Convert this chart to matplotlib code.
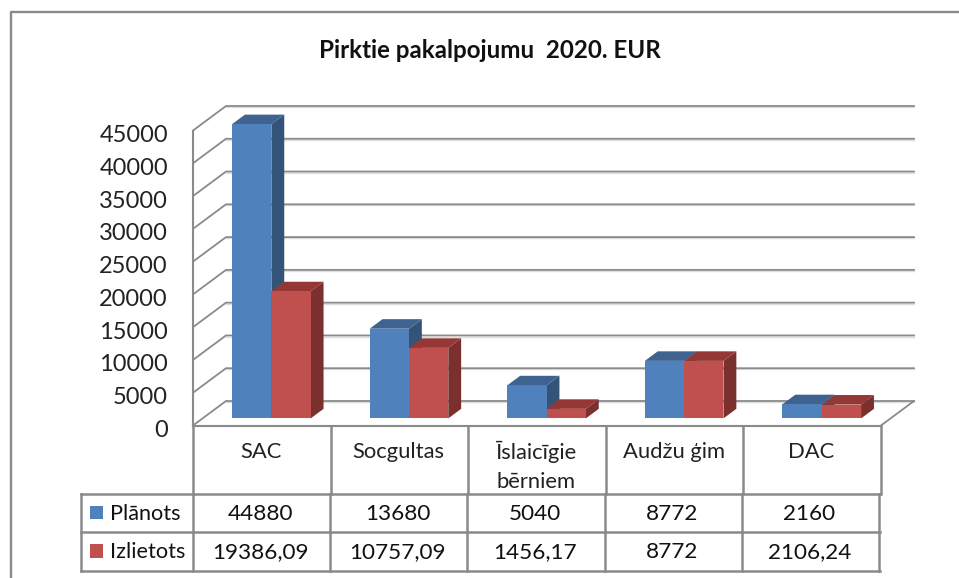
import matplotlib
matplotlib.use("Agg")
import matplotlib.pyplot as plt
from matplotlib.transforms import ScaledTranslation

categories = ["SAC", "Socgultas", "Īslaicīgie\nbērniem", "Audžu ģim", "DAC"]
planots = [44880, 13680, 5040, 8772, 2160]
izlietots = [19386.09, 10757.09, 1456.17, 8772, 2106.24]
y_ticks = [0, 5000, 10000, 15000, 20000, 25000, 30000, 35000, 40000, 45000]
title = "Pirktie pakalpojumu  2020. EUR"

W, H = 959, 578
plt.rcParams["font.family"] = ["Lato", "DejaVu Sans"]

GRID = "#8a8a8a"
BLUE = ("#4f81bd", "#3e6390", "#335379")
RED = ("#c0504d", "#953735", "#7b302e")

# depth of the fake 3d box, in data units of the axes below
DX = 33 / 137.6
DY = 24.5 / 295 * 45000
BAR_W = 0.2857
D0, D1 = 0.29, 0.68


def project(x, v, d):
    return x + d * DX, v + d * DY


def draw_bar(ax, x0, x1, v, colors, z):
    front, top, side = colors
    pts = [(x0, 0, D0), (x1, 0, D0), (x1, v, D0), (x0, v, D0)]
    xs, ys = zip(*[project(*p) for p in pts])
    ax.fill(xs, ys, color=front, lw=0, zorder=z + 0.2, clip_on=False)
    pts = [(x0, v, D0), (x1, v, D0), (x1, v, D1), (x0, v, D1)]
    xs, ys = zip(*[project(*p) for p in pts])
    ax.fill(xs, ys, color=top, lw=0, zorder=z + 0.1, clip_on=False)
    pts = [(x1, 0, D0), (x1, 0, D1), (x1, v, D1), (x1, v, D0)]
    xs, ys = zip(*[project(*p) for p in pts])
    ax.fill(xs, ys, color=side, lw=0, zorder=z, clip_on=False)


def fmt(v):
    if float(v).is_integer():
        return str(int(v))
    return f"{v:.2f}".replace(".", ",")


fig = plt.figure(figsize=(W / 100, H / 100), dpi=100, facecolor="white")

# overlay in pixels for the frame and the data table
tab = fig.add_axes([0, 0, 1, 1], zorder=1)
tab.set_xlim(0, W)
tab.set_ylim(H, 0)
tab.axis("off")


def pline(xs, ys, lw=1.8):
    tab.plot(xs, ys, color=GRID, lw=lw, solid_capstyle="projecting")


pline([11, 11, W], [H, 12, 12], lw=1.7)
tab.text(490, 51, title, ha="center", va="center", fontsize=17.4,
         fontweight="bold", color="#111111")

# plot area, front plane of the box
ax = fig.add_axes([193 / W, (H - 425.5) / H, 688 / W, 295 / H], zorder=2)
ax.set_xlim(0, 5)
ax.set_ylim(0, 45000)
ax.patch.set_alpha(0)
for s in ax.spines.values():
    s.set_visible(False)
ax.set_xticks([])
ax.set_yticks(y_ticks)
ax.tick_params(axis="y", length=0, pad=18, labelsize=17, labelcolor="#222222")
shift = ScaledTranslation(0, -3 / 100, fig.dpi_scale_trans)
for lab in ax.get_yticklabels():
    lab.set_transform(lab.get_transform() + shift)

for t in y_ticks:
    xs, ys = zip(project(0, t, 0), project(0, t, 1), project(5, t, 1))
    ax.plot(xs, ys, color=GRID, lw=1.3, zorder=1, clip_on=False)
    # soft shadow under the gridline
    xs, ys = zip(project(0, t - 170, 1), project(5, t - 170, 1))
    ax.plot(xs, ys, color="#dedede", lw=1.0, zorder=0.9, clip_on=False)

ax.plot([0, 0], [0, 45000], color=GRID, lw=1.5, zorder=1, clip_on=False)
xs, ys = zip(project(5, 0, 0), project(5, 0, 1))
ax.plot(xs, ys, color=GRID, lw=1.3, zorder=1, clip_on=False)

for i in range(len(categories)):
    c = i + 0.5
    draw_bar(ax, c - BAR_W, c, planots[i], BLUE, 2 + i)
    draw_bar(ax, c, c + BAR_W, izlietots[i], RED, 2.5 + i)

# data table
row_y = [426, 493.5, 532, 570.5]
cols_top = [193 + 137.6 * i for i in range(6)]
cols_low = [193 + 137.2 * i for i in range(6)]
pline([193, 881], [row_y[0], row_y[0]], lw=1.5)
pline([81, 880], [row_y[1], row_y[1]])
pline([81, 880], [row_y[2], row_y[2]])
pline([81, 880], [row_y[3], row_y[3]])
pline([81, 81], [row_y[1], row_y[3]])
for x in cols_top:
    pline([x, x], [row_y[0], row_y[1]])
for x in cols_low:
    pline([x, x], [row_y[1], row_y[3]])

for i, name in enumerate(categories):
    lines = name.split("\n")
    xc = (cols_top[i] + cols_top[i + 1]) / 2 - 1
    for k, line in enumerate(lines):
        tab.text(xc, 452 + 29.5 * k, line, ha="center", va="center",
                 fontsize=15.8, color="#222222")
    xc = (cols_low[i] + cols_low[i + 1]) / 2 - 1
    tab.text(xc, 514, fmt(planots[i]), ha="center", va="center", fontsize=16.2, color="#111111")
    tab.text(xc, 552, fmt(izlietots[i]), ha="center", va="center", fontsize=16.2, color="#111111")

for label, color, y in [("Plānots", BLUE[0], 512.5), ("Izlietots", RED[0], 551)]:
    tab.fill([90, 102.5, 102.5, 90], [y - 6.7, y - 6.7, y + 6.7, y + 6.7], color=color, lw=0)
    tab.text(110, y + 1, label, ha="left", va="center", fontsize=15.6, color="#111111")

fig.savefig("out.png", dpi=100)
